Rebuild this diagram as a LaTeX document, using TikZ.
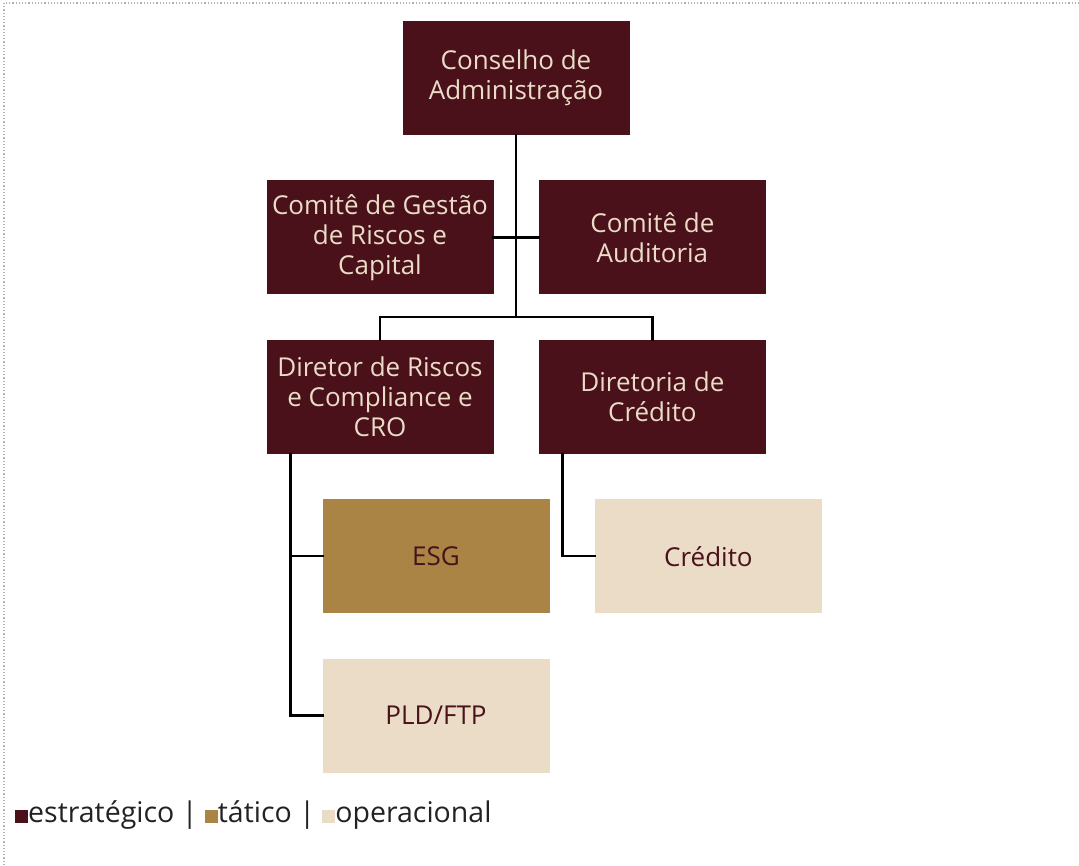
\documentclass[tikz,border=0pt]{standalone}
\usepackage{fontspec}
\setmainfont{Open Sans}
\usepackage{tikz}
\usetikzlibrary{calc, positioning}
\usepackage{xcolor}
\definecolor{Maroon}{HTML}{4A111B}
\definecolor{Gold}{HTML}{A98445}
\definecolor{Cream}{HTML}{EADCC6}
\definecolor{InkGray}{HTML}{222222}
\tikzset{%
  org_block/.style={%
    rectangle,%
    minimum width=227,%
    minimum height=114,%
    inner sep=0pt,%
    font={\fontsize{26}{30}\selectfont},%
    align=center%
  },
  strategic/.style={%
    org_block,%
    fill=Maroon,%
    text=Cream,%
  },
  tactical/.style={%
    org_block,%
    fill=Gold,%
    text=Maroon,%
  },
  operational/.style={%
    org_block,%
    fill=Cream,%
    text=Maroon,%
  },
  org_path/.style={%
    color=black,%
    line width=2.5pt,%
    line cap=rect,%
  },
  legend/.style={%
    font={\fontsize{28.5}{30}\selectfont},%
    text=InkGray,%
    inner sep=0pt,%
  },
}

\begin{document}
\begin{tikzpicture}[x=1pt, y=1pt]
    \useasboundingbox (0,0) rectangle (1079,865);
    \draw [gray!60, dotted, line width=1.2pt] (4,0) |- (1079,862);

    \node [strategic] (Adm) at (516,787) {Conselho de\\Administração};
    \node [strategic, below = 45 of Adm, xshift=-136] (Gestao)
      {Comitê de Gestão\\de Riscos e\\Capital};
    \node [strategic, right = 45 of Gestao] (Auditoria) {Comitê de\\Auditoria};
    \node [strategic, below = 45 of Gestao] (Riscos)
      {Diretor de Riscos\\e Compliance e\\CRO};
    \node [strategic, below = 45 of Auditoria] (Diretoria) {Diretoria de\\Crédito};
    \node [tactical, below = 45 of Riscos, xshift=56] (ESG) {ESG};
    \node [operational, below = 45 of Diretoria, xshift=56] (Credito) {Crédito};
    \node [operational, below = 45 of ESG] (PLD) {PLD/FTP};

    \coordinate (bus) at ($(Gestao.south)!0.5!(Riscos.north)$);
    \coordinate (riscos_drop) at ([xshift=24]Riscos.south west);
    \coordinate (diretoria_drop) at ([xshift=24]Diretoria.south west);

    \draw [org_path]
      (Adm.south)
      --
      (Adm.south |- bus);
    \draw [org_path]
      (Gestao.east)
      --
      (Auditoria.west);
    \draw [org_path]
      (Riscos.north)
      --
      (bus)
      -|
      (Diretoria.north);
    \draw [org_path]
      (riscos_drop)
      |-
      (PLD.west);
    \draw [org_path]
      (ESG.west)
      --
      (ESG.west -| riscos_drop);
    \draw [org_path]
      (diretoria_drop)
      |-
      (Credito.west);

    \node [legend, anchor=base west] (Legenda) at (15,42)
      {\textcolor{Maroon}{\rule{13pt}{13pt}}estratégico |
       \textcolor{Gold}{\rule{13pt}{13pt}}tático |
       \textcolor{Cream}{\rule{13pt}{13pt}}operacional};
  \end{tikzpicture}
\end{document}
